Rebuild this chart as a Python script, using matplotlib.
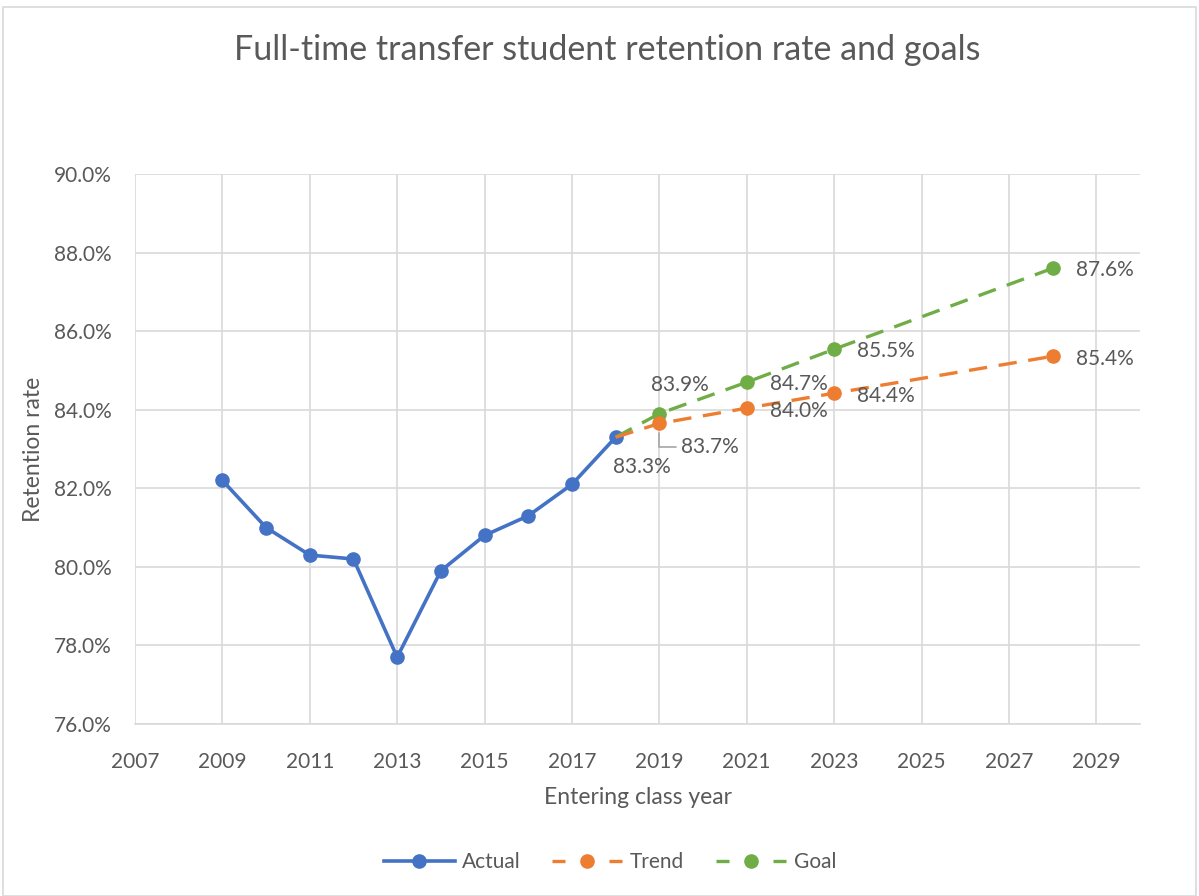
import matplotlib
matplotlib.use("Agg")
import matplotlib.pyplot as plt
from matplotlib.patches import Rectangle

plt.rcParams['font.family'] = ['Lato', 'DejaVu Sans']

actual_years = [2009, 2010, 2011, 2012, 2013, 2014, 2015, 2016, 2017, 2018]
actual_vals = [82.2, 81.0, 80.3, 80.2, 77.7, 79.9, 80.8, 81.3, 82.1, 83.3]
trend_years = [2018, 2019, 2021, 2023, 2028]
trend_vals = [83.3, 83.65, 84.04, 84.42, 85.36]
goal_years = [2018, 2019, 2021, 2023, 2028]
goal_vals = [83.3, 83.9, 84.7, 85.54, 87.6]
x_ticks = list(range(2007, 2030, 2))
y_ticks = [76, 78, 80, 82, 84, 86, 88, 90]

BLUE = '#4472C4'
ORANGE = '#ED7D31'
GREEN = '#70AD47'
TXT = '#595959'
GRID = '#D9D9D9'

fig = plt.figure(figsize=(11.99, 8.96), dpi=100)
fig.patches.append(Rectangle((3/1199, 0), 1 - 6/1199, 1 - 7/896, transform=fig.transFigure,
                             fill=False, edgecolor='#D9D9D9', linewidth=1.2))
ax = fig.add_axes([135/1199, 172/896, (1140-135)/1199, (724-174)/896])

ax.plot(actual_years, actual_vals, color=BLUE, lw=2.6, marker='o', ms=9.5, zorder=3, label='Actual')
ax.plot(goal_years[1:], goal_vals[1:], color=GREEN, lw=0, marker='o', ms=9.5, zorder=4)
ax.plot(goal_years, goal_vals, color=GREEN, lw=2.4, dashes=(5.5, 3.5), zorder=4)
ax.plot(trend_years[1:], trend_vals[1:], color=ORANGE, lw=0, marker='o', ms=9.5, zorder=5)
ax.plot(trend_years, trend_vals, color=ORANGE, lw=2.4, dashes=(5.5, 3.5), zorder=5)

# legend handles
h1, = ax.plot([], [], color=BLUE, lw=2.6, marker='o', ms=9.5)
h2, = ax.plot([], [], color=ORANGE, lw=2.4, dashes=(3.9, 13.2), marker='o', ms=9.5)
h3, = ax.plot([], [], color=GREEN, lw=2.4, dashes=(3.9, 13.2), marker='o', ms=9.5)
fig.legend([h1, h2, h3], ['Actual', 'Trend', 'Goal'], loc='center', bbox_to_anchor=(610/1199, 1 - 862/896),
           ncol=3, frameon=False, fontsize=15, labelcolor=TXT, handlelength=3.4, columnspacing=1.5,
           handletextpad=0.35)

ax.set_xlim(2007, 2030)
ax.set_ylim(76, 90)
ax.set_xticks(x_ticks)
ax.set_yticks(y_ticks)
ax.set_yticklabels([f'{v:.1f}%' for v in y_ticks])
ax.grid(True, color=GRID, lw=1.2)
ax.set_axisbelow(True)
for s in ['top', 'right', 'left']:
    ax.spines[s].set_visible(False)
ax.spines['bottom'].set_color(GRID)
ax.spines['bottom'].set_linewidth(1.2)
ax.tick_params(length=0, labelsize=15, colors=TXT)
ax.tick_params(axis='x', pad=20)
ax.tick_params(axis='y', pad=17)
ax.set_xlabel('Entering class year', fontsize=16.5, color=TXT, labelpad=11)
ax.set_ylabel('Retention rate', fontsize=16.5, color=TXT, labelpad=7)
fig.text(607/1199, 1 - 50/896, 'Full-time transfer student retention rate and goals',
         ha='center', va='center', fontsize=24.5, color=TXT)

fs = 15
def lab(x, y, txt, dx, dy, ha='left', **kw):
    ax.annotate(txt, (x, y), xytext=(dx, dy), textcoords='offset pixels', ha=ha, va='center',
                fontsize=fs, color=TXT, zorder=6, **kw)

lab(actual_years[-1], actual_vals[-1], f'{actual_vals[-1]:.1f}%', 26, -30, ha='center')
lab(goal_years[1], goal_vals[1], f'{goal_vals[1]:.1f}%', 21, 29, ha='center')
lab(trend_years[1], trend_vals[1], f'{trend_vals[1]:.1f}%', 22, -24,
    arrowprops=dict(arrowstyle='-', color='#A6A6A6', lw=1.2,
                    connectionstyle='angle,angleA=0,angleB=90,rad=0', shrinkA=2, shrinkB=7))
for i in range(2, 5):
    lab(goal_years[i], goal_vals[i], f'{goal_vals[i]:.1f}%', 23, -2)
    lab(trend_years[i], trend_vals[i], f'{trend_vals[i]:.1f}%', 23, -3)

fig.savefig('out.png', dpi=100)
